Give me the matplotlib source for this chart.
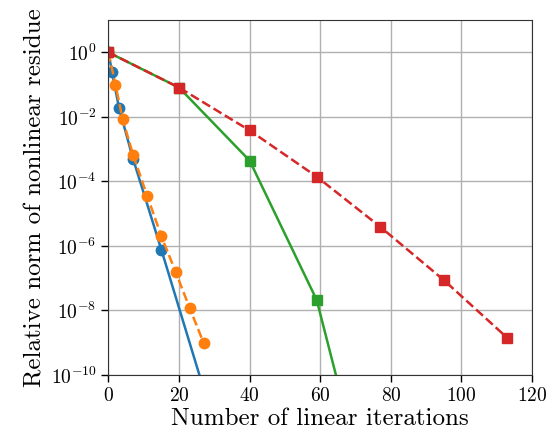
import matplotlib
matplotlib.use("Agg")
import matplotlib.pyplot as plt
import numpy as np

# fonte tipo LaTeX
plt.rcParams['font.family'] = 'serif'
plt.rcParams['font.serif'] = ['cmr10']
plt.rcParams['mathtext.fontset'] = 'cm'
plt.rcParams['axes.formatter.use_mathtext'] = True

# dados
it_azul = [0, 1, 3, 7, 15, 31]
res_azul = [1.0, 0.25, 0.019, 4.9e-4, 7.6e-7, 1.3e-12]

it_laranja = [0, 2, 4, 7, 11, 15, 19, 23, 27]
res_laranja = [1.0, 0.10, 8.7e-3, 6.6e-4, 3.5e-5, 2.0e-6, 1.6e-7, 1.2e-8, 9.6e-10]

it_verde = [0, 20, 40, 59, 78]
res_verde = [1.0, 0.081, 4.4e-4, 2.1e-8, 1.6e-16]

it_vermelho = [0, 20, 40, 59, 77, 95, 113]
res_vermelho = [1.0, 0.081, 3.8e-3, 1.4e-4, 3.9e-6, 8.7e-8, 1.4e-9]

xticks = [0, 20, 40, 60, 80, 100, 120]
yticks = [1e0, 1e-2, 1e-4, 1e-6, 1e-8, 1e-10]

fig = plt.figure(figsize=(5.56, 4.37), dpi=100)
ax = fig.add_axes([0.195, 0.142, 0.762, 0.812])

ax.semilogy(it_azul, res_azul, '-o', color='tab:blue', lw=1.8, ms=7.5)
ax.semilogy(it_laranja, res_laranja, '--o', color='tab:orange', lw=1.8, ms=7.5)
ax.semilogy(it_verde, res_verde, '-s', color='tab:green', lw=1.8, ms=7)
ax.semilogy(it_vermelho, res_vermelho, '--s', color='tab:red', lw=1.8, ms=7)

ax.set_xlim(0, 120)
ax.set_ylim(1e-10, 1e1)
ax.set_xticks(xticks)
ax.set_yticks(yticks)
ax.minorticks_off()
ax.grid(True, color='#b0b0b0', lw=1.0)
ax.set_axisbelow(True)

ax.tick_params(labelsize=14, width=1, length=5)
for s in ax.spines.values():
    s.set_color('#333333')

ax.set_xlabel('Number of linear iterations', fontsize=18, labelpad=2)
ax.set_ylabel('Relative norm of nonlinear residue', fontsize=18, labelpad=3)

plt.savefig('out.png', dpi=100)
